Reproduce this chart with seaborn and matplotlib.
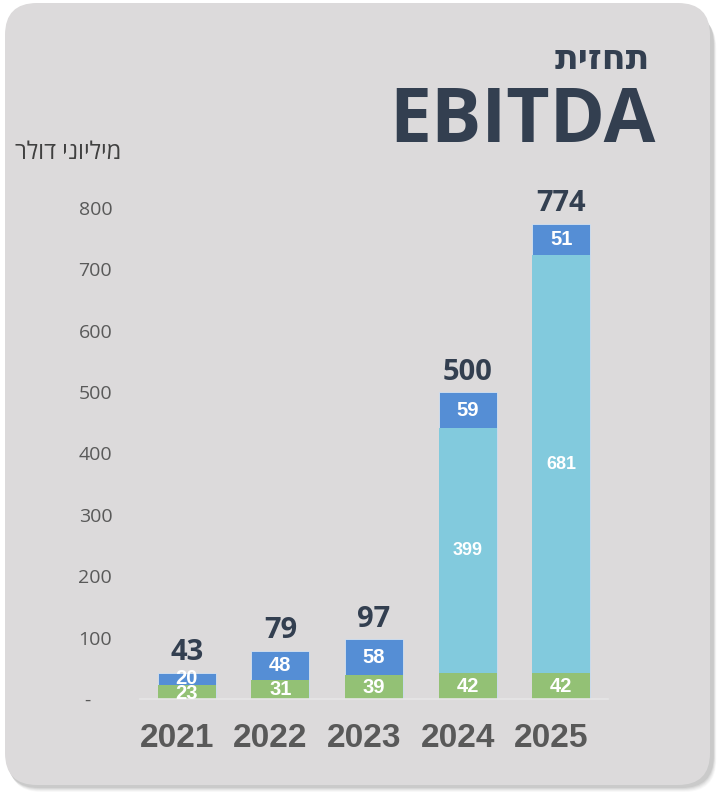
import matplotlib
matplotlib.use("Agg")
import matplotlib.pyplot as plt
import matplotlib.transforms as mtrans
from matplotlib.patches import FancyBboxPatch
import seaborn as sns
import pandas as pd

# ---- data ----
years = ["2021", "2022", "2023", "2024", "2025"]
green_vals = [23, 31, 39, 42, 42]
light_vals = [0, 0, 0, 399, 681]
blue_vals = [20, 48, 58, 59, 51]
totals = [43, 79, 97, 500, 774]
y_ticks = [0, 100, 200, 300, 400, 500, 600, 700, 800]
title_he = "תחזית"
title_en = "EBITDA"
unit_he = "מיליוני דולר"

GREEN = "#93c175"
BLUE = "#558ed5"
LIGHT = "#82cadd"
NAVY = "#333f50"
GRAY = "#595959"
PANEL = "#dcdadb"
ARIAL = ["Liberation Sans", "DejaVu Sans"]

sns.set_theme(style="white")
plt.rcParams["font.family"] = ["Open Sans", "DejaVu Sans"]

W, H = 717, 794
fig = plt.figure(figsize=(W / 100, H / 100), dpi=100)
fig.patch.set_facecolor("white")

# shadow + panel
for i, a in enumerate([0.05, 0.07, 0.09, 0.12, 0.15]):
    off = 7 - i
    sh = FancyBboxPatch((5 / W + off / W * 0.6, (9 - off) / H), 707 / W, 776 / H,
                        boxstyle=f"round,pad=0,rounding_size={32 / W}",
                        transform=fig.transFigure, facecolor="#808080",
                        edgecolor="none", alpha=a, zorder=0,
                        mutation_aspect=W / H)
    fig.patches.append(sh)
panel = FancyBboxPatch((5 / W, 9 / H), 705 / W, 782 / H,
                       boxstyle=f"round,pad=0,rounding_size={32 / W}",
                       transform=fig.transFigure, facecolor=PANEL,
                       edgecolor="none", zorder=1, mutation_aspect=W / H)
fig.patches.append(panel)

ax = fig.add_axes([140 / W, 95 / H, 468 / W, 491 / H])
ax.set_facecolor("none")
ax.set_zorder(2)

df = pd.DataFrame({
    "year": years,
    "green": green_vals,
    "light": light_vals,
    "blue": blue_vals,
    "total": totals,
})
df["mid"] = df["green"] + df["light"]

bw = 0.62
sns.barplot(data=df, x="year", y="total", color=BLUE, width=bw, ax=ax,
            saturation=1, edgecolor="#d6e2f0", linewidth=0.6)
sns.barplot(data=df, x="year", y="mid", color=LIGHT, width=bw, ax=ax,
            saturation=1, edgecolor="none", linewidth=0)
sns.barplot(data=df, x="year", y="green", color=GREEN, width=bw, ax=ax,
            saturation=1, edgecolor="none", linewidth=0)

ax.set_xlim(-0.5, 4.5)
ax.set_ylim(0, 800)
ax.set_xlabel("")
ax.set_ylabel("")
for s in ["top", "right", "left"]:
    ax.spines[s].set_visible(False)
ax.spines["bottom"].set_color("#e6e6e6")
ax.spines["bottom"].set_linewidth(1.2)

ax.set_yticks(y_ticks)
ax.set_yticklabels(["-    "] + [str(v) for v in y_ticks[1:]])
ax.tick_params(axis="y", length=0, pad=20, labelsize=14, labelcolor=GRAY)
ax.tick_params(axis="x", length=0, pad=17, labelsize=24, labelcolor=GRAY)
shift = mtrans.ScaledTranslation(-10 / 100, 0, fig.dpi_scale_trans)
for lbl in ax.get_xticklabels():
    lbl.set_fontweight("bold")
    lbl.set_family(ARIAL)
    lbl.set_transform(lbl.get_transform() + shift)

# labels
for i in range(len(years)):
    g, l, b, t = green_vals[i], light_vals[i], blue_vals[i], totals[i]
    ax.text(i, g / 2 - (3 if i == 0 else 0), str(g), ha="center", va="center",
            color="white", fontsize=14.5, fontweight="bold", family=ARIAL, zorder=5)
    if l > 0:
        ax.text(i, g + l / 2, str(l), ha="center", va="center", color="white",
                fontsize=13, fontweight="bold", family=ARIAL, zorder=5)
    ax.text(i, g + l + b / 2, str(b), ha="center", va="center", color="white",
            fontsize=14.5, fontweight="bold", family=ARIAL, zorder=5)
    ax.annotate(str(t), (i, t), xytext=(0, 4), textcoords="offset points",
                ha="center", va="bottom", color=NAVY, fontsize=21,
                fontweight="bold", annotation_clip=False, zorder=5)

# titles
fig.text(650 / W, 1 - 60 / H, title_he[::-1], ha="right", va="center",
         fontsize=25, fontweight="bold", color=NAVY, zorder=3)
fig.text(656 / W, 1 - 122 / H, title_en, ha="right", va="center",
         fontsize=54, fontweight="bold", color=NAVY, zorder=3)
fig.text(15 / W, 1 - 153 / H, unit_he[::-1], ha="left", va="center",
         fontsize=17, color="#404040", zorder=3)

fig.savefig("out.png", dpi=100, facecolor=fig.get_facecolor())
